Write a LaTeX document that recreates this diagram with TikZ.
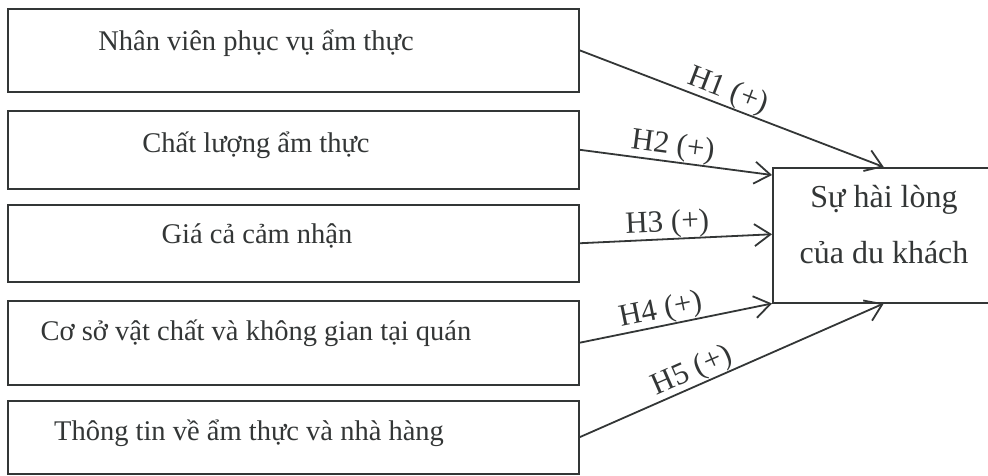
\documentclass[tikz,border=0pt]{standalone}
\usepackage{fontspec}
\setmainfont{Liberation Serif}
\usetikzlibrary{arrows.meta,calc}
\definecolor{ink}{rgb}{0.2,0.21,0.21}
\begin{document}
\begin{tikzpicture}[x=1pt,y=-1pt,
  every node/.style={font=\fontsize{28.5}{32}\selectfont, text=ink},
  factor/.style={draw=ink, line width=1.5pt, minimum width=571pt,
    anchor=north west, inner sep=0pt},
  caption/.style={anchor=base},
  bigcaption/.style={anchor=base, font=\fontsize{32}{36}\selectfont},
  outcome/.style={draw=ink, line width=1.5pt, minimum width=222pt,
    minimum height=135pt, anchor=north west, inner sep=0pt},
  link/.style={draw=ink, line width=1.8pt,
    -{Straight Barb[length=16pt,width=22pt,line width=1.8pt]}},
  hyp/.style={sloped, above, inner sep=0pt, font=\fontsize{31}{34}\selectfont}
]
\useasboundingbox (0,0) rectangle (988,475);

% factor boxes
\node[factor, minimum height=83pt] (f1) at (7,8) {};
\node[factor, minimum height=78pt] (f2) at (7,110) {};
\node[factor, minimum height=77pt] (f3) at (7,204) {};
\node[factor, minimum height=84pt] (f4) at (7,300) {};
\node[factor, minimum height=73pt] (f5) at (7,400) {};

% factor captions
\node[caption] (t1) at (256,50) {Nhân viên phục vụ ẩm thực};
\node[caption] (t2) at (256,152) {Chất lượng ẩm thực};
\node[caption] (t3) at (257,243) {Giá cả cảm nhận};
\node[caption] (t4) at (256,340) {Cơ sở vật chất và không gian tại quán};
\node[caption] (t5) at (249,440) {Thông tin về ẩm thực và nhà hàng};

% outcome box and its two-line caption
\node[outcome] (res) at (772,167) {};
\node[bigcaption] (r1) at (884,207) {Sự hài lòng};
\node[bigcaption] (r2) at (884,263) {của du khách};

% hypothesised paths
\draw[link] (f1.east) -- node[hyp, pos=0.47] {H1 (+)} (res.north);
\draw[link] (f2.east) -- node[hyp, pos=0.475] {H2 (+)} ($(res.north west)+(0,8)$);
\draw[link] (f3.east) -- node[hyp, pos=0.46] {H3 (+)} ($(res.west)+(0,-1)$);
\draw[link] (f4.east) -- node[hyp, pos=0.44] {H4 (+)} (res.south west);
\draw[link] (f5.east) -- node[hyp, pos=0.39] {H5 (+)} (res.south);
\end{tikzpicture}
\end{document}
